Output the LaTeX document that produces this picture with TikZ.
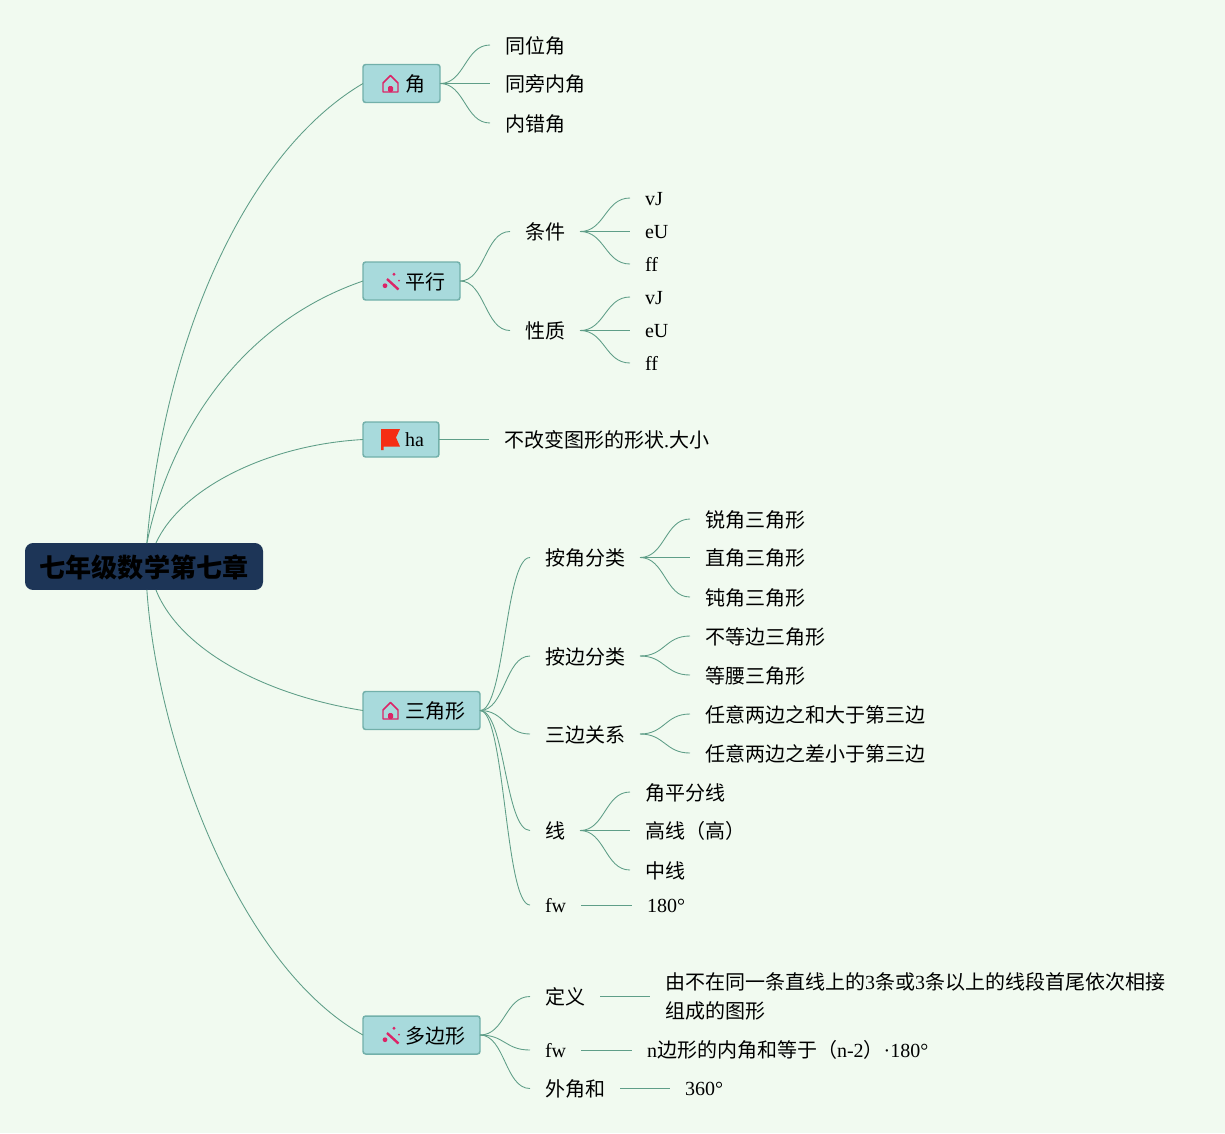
\documentclass[tikz,border=0pt]{standalone}
\usepackage{fontspec}
\setmainfont{Liberation Serif}
\newfontfamily\cjk{Noto Sans CJK SC}
\usepackage{xcolor}
\definecolor{bgcol}{HTML}{F1FAF0}
\definecolor{linecol}{HTML}{5F9E88}
\definecolor{boxcol}{HTML}{A8DADC}
\definecolor{boxedge}{HTML}{72B0AA}
\definecolor{rootcol}{HTML}{1D3557}
\definecolor{iconcol}{HTML}{DC2467}
\definecolor{flagcol}{HTML}{F52D14}
\tikzset{
    leaf/.style={font=\fontsize{15pt}{21.75pt}\selectfont\cjk, anchor=west, inner xsep=11.25pt, inner ysep=0pt, outer sep=0pt, text height=16pt, text depth=3.4pt},
    latin/.style={leaf, font=\fontsize{15pt}{21pt}\selectfont\rmfamily, text height=14pt},
    topic/.style={leaf, draw=boxedge, fill=boxcol, line width=1.1pt, rounded corners=2pt, minimum height=28.5pt},
    link/.style={draw=linecol, line width=0.65pt},
    houseicon/.pic={
        \draw[iconcol, line width=1.1pt, line join=round] (-7.5,8) -- (-7.5,-1) -- (0,-8.5) -- (7.5,-1) -- (7.5,8) -- cycle;
        \fill[iconcol, rounded corners=1pt] (-2.5,8) -- (-2.5,2) -- (2.5,2) -- (2.5,8) -- cycle;
    },
    wandicon/.pic={
        \draw[iconcol, line width=1.8pt] (-3.5,-2) -- (8,8.5);
        \fill[iconcol] (3.5,-6.7) circle (1.6);
        \fill[iconcol] (8.5,-0.3) circle (1);
        \fill[iconcol] (-5.5,4.7) circle (2.4);
    },
    flagicon/.pic={
        \fill[flagcol] (-9.5,-10.5) -- (9.5,-10.5) -- (5.5,-2) -- (9.5,7) -- (-7,7) -- (-7,10.5) -- (-9.5,10.5) -- cycle;
    }
}

\begin{document}
\begin{tikzpicture}[x=0.75pt,y=-0.75pt]
    \fill[bgcol, use as bounding box] (0,0) rectangle (1225,1133);

    \node[fill=rootcol, rounded corners=6pt, minimum width=178.5pt, minimum height=35.2pt, inner sep=0pt, outer sep=0pt, text height=20pt, text depth=2.8pt, font=\fontsize{19.6pt}{22pt}\selectfont\cjk\bfseries] (root) at (144,566.5) {七年级数学第七章};

    \node[topic] (angle) at (363,83.5) {\hspace*{20.25pt}角};
    \node[topic] (parallel) at (363,281) {\hspace*{20.25pt}平行};
    \node[topic, font=\fontsize{15pt}{21pt}\selectfont\rmfamily, minimum height=26.25pt, text height=14pt] (ha) at (363,439.5) {\hspace*{20.25pt}ha};
    \node[topic] (triangle) at (363,710.5) {\hspace*{20.25pt}三角形};
    \node[topic] (polygon) at (363,1035) {\hspace*{20.25pt}多边形};

    \pic at (390.5,84) {houseicon};
    \pic at (390.5,281) {wandicon};
    \pic at (390.5,439.5) {flagicon};
    \pic at (390.5,711) {houseicon};
    \pic at (390.5,1035) {wandicon};

    \node[leaf] (same) at (490,45) {同位角};
    \node[leaf] (inner) at (490,83.5) {同旁内角};
    \node[leaf] (alt) at (490,123) {内错角};

    \node[leaf] (cond) at (510,231.5) {条件};
    \node[leaf] (prop) at (510,330.5) {性质};
    \node[latin] (cond1) at (630,198) {vJ};
    \node[latin] (cond2) at (630,231.5) {eU};
    \node[latin] (cond3) at (630,264) {ff};
    \node[latin] (prop1) at (630,297) {vJ};
    \node[latin] (prop2) at (630,330.5) {eU};
    \node[latin] (prop3) at (630,363) {ff};

    \node[leaf] (shape) at (489,439.5) {不改变图形的形状{\rmfamily .}大小};

    \node[leaf] (byangle) at (530,557.5) {按角分类};
    \node[leaf] (byside) at (530,656) {按边分类};
    \node[leaf] (sides) at (530,734) {三边关系};
    \node[leaf] (lines) at (530,830.5) {线};
    \node[latin] (fwa) at (530,905) {fw};

    \node[leaf] (acute) at (690,519) {锐角三角形};
    \node[leaf] (right) at (690,557.5) {直角三角形};
    \node[leaf] (obtuse) at (690,597) {钝角三角形};
    \node[leaf] (scalene) at (690,636) {不等边三角形};
    \node[leaf] (isos) at (690,675) {等腰三角形};
    \node[leaf] (sum) at (690,714) {任意两边之和大于第三边};
    \node[leaf] (diff) at (690,753) {任意两边之差小于第三边};
    \node[leaf] (bisect) at (630,792) {角平分线};
    \node[leaf] (height) at (630,830.5) {高线（高）};
    \node[leaf] (median) at (630,870) {中线};
    \node[latin] (deg) at (632,905) {180°};

    \node[leaf] (define) at (530,996.5) {定义};
    \node[latin] (fwb) at (530,1050) {fw};
    \node[leaf] (outer) at (530,1088.5) {外角和};
    \node[leaf, text height=, text depth=, align=left] (definetext) at (650,996.5) {由不在同一条直线上的{\rmfamily 3}条或{\rmfamily 3}条以上的线段首尾依次相接\\组成的图形};
    \node[latin] (fwtext) at (632,1050) {n{\cjk 边形的内角和等于（}n-2{\cjk ）}·180°};
    \node[latin] (outertext) at (670,1088.5) {360°};

    \draw[link] (root.83) .. controls (165,330) and (250,150) .. (angle.west);
    \draw[link] (root.83) .. controls (168,440) and (235,325) .. (parallel.west);
    \draw[link] (root.63) .. controls (180,490) and (265,445) .. (ha.west);
    \draw[link] (root.-63) .. controls (180,650) and (265,695) .. (triangle.west);
    \draw[link] (root.-83) .. controls (157,740) and (237,965) .. (polygon.west);

    \foreach \a/\b in {angle/same, angle/inner, angle/alt, parallel/cond, parallel/prop, cond/cond1, cond/cond2, cond/cond3, prop/prop1, prop/prop2, prop/prop3, ha/shape, triangle/byangle, triangle/byside, triangle/sides, triangle/lines, triangle/fwa, byangle/acute, byangle/right, byangle/obtuse, byside/scalene, byside/isos, sides/sum, sides/diff, lines/bisect, lines/height, lines/median, fwa/deg, polygon/define, polygon/fwb, polygon/outer, define/definetext, fwb/fwtext, outer/outertext}
        \draw[link] (\a.east) .. controls +(25,0) and +(-25,0) .. (\b.west);
\end{tikzpicture}
\end{document}
